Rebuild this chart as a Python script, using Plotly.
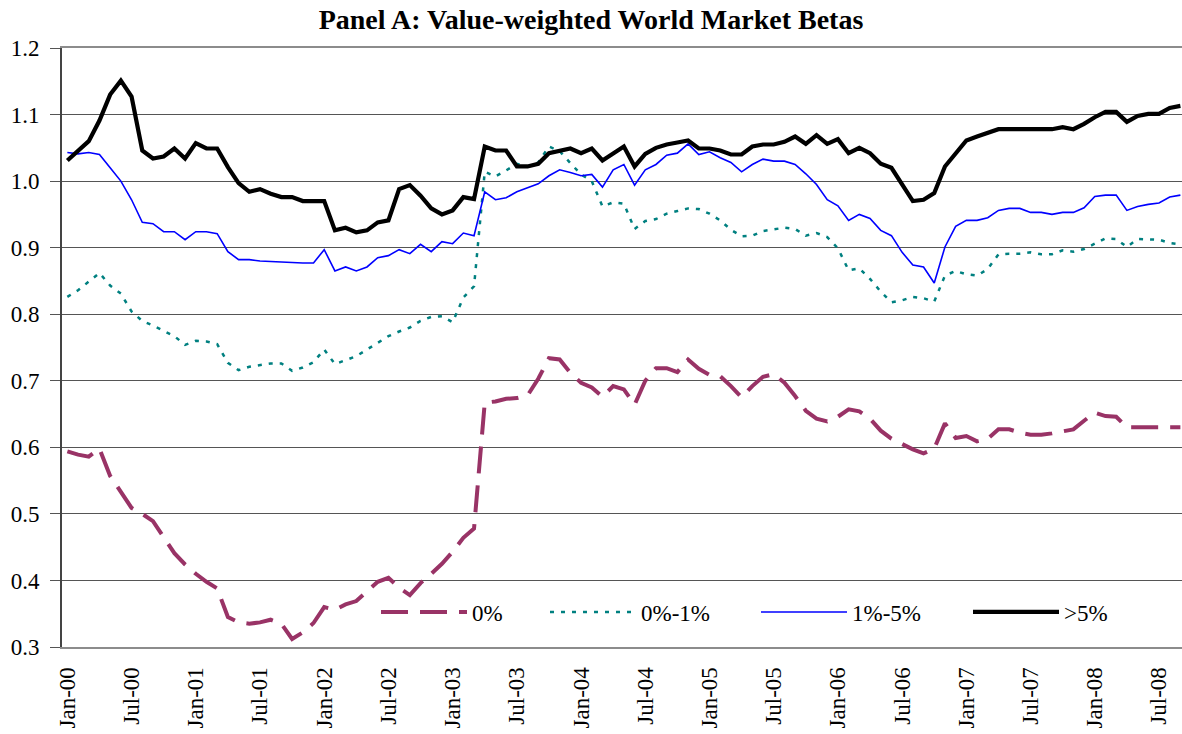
import plotly.graph_objects as go

MONTHS = ["Jan", "Feb", "Mar", "Apr", "May", "Jun", "Jul", "Aug", "Sep", "Oct", "Nov", "Dec"]
YEARS = ["00", "01", "02", "03", "04", "05", "06", "07", "08"]
N_MONTHS = 105  # Jan-00 .. Sep-08
categories = [f"{m}-{y}" for y in YEARS for m in MONTHS][:N_MONTHS]
tick_labels = categories[::6]

beta_0 = [
    0.594, 0.589, 0.586, 0.598, 0.557, 0.533, 0.509, 0.500, 0.489, 0.465, 0.441, 0.424,
    0.410, 0.398, 0.388, 0.345, 0.337, 0.335, 0.337, 0.341, 0.335, 0.312, 0.322, 0.336,
    0.360, 0.356, 0.364, 0.369, 0.383, 0.398, 0.404, 0.389, 0.378, 0.396, 0.410, 0.425,
    0.443, 0.464, 0.478, 0.667, 0.669, 0.673, 0.674, 0.678, 0.703, 0.734, 0.732, 0.712,
    0.697, 0.690, 0.676, 0.692, 0.687, 0.664, 0.700, 0.719, 0.719, 0.713, 0.732, 0.718,
    0.709, 0.707, 0.692, 0.675, 0.692, 0.706, 0.710, 0.697, 0.677, 0.655, 0.643, 0.639,
    0.646, 0.657, 0.654, 0.643, 0.625, 0.613, 0.605, 0.597, 0.591, 0.598, 0.636, 0.614,
    0.617, 0.609, 0.613, 0.627, 0.627, 0.622, 0.619, 0.619, 0.621, 0.624, 0.627, 0.640,
    0.652, 0.647, 0.646, 0.630, 0.630, 0.630, 0.630, 0.630, 0.630,
]

beta_0_1 = [
    0.826, 0.836, 0.849, 0.862, 0.843, 0.831, 0.804, 0.790, 0.783, 0.775, 0.767, 0.754,
    0.760, 0.759, 0.755, 0.727, 0.716, 0.721, 0.723, 0.726, 0.726, 0.715, 0.720, 0.728,
    0.747, 0.725, 0.731, 0.737, 0.747, 0.757, 0.767, 0.774, 0.780, 0.790, 0.796, 0.797,
    0.788, 0.825, 0.842, 1.014, 1.007, 1.016, 1.026, 1.022, 1.028, 1.052, 1.045, 1.027,
    1.010, 1.000, 0.962, 0.968, 0.966, 0.928, 0.940, 0.943, 0.951, 0.955, 0.959, 0.958,
    0.951, 0.941, 0.927, 0.917, 0.918, 0.925, 0.928, 0.930, 0.928, 0.918, 0.922, 0.916,
    0.899, 0.866, 0.869, 0.853, 0.834, 0.818, 0.821, 0.826, 0.824, 0.819, 0.858, 0.865,
    0.860, 0.858, 0.868, 0.890, 0.891, 0.891, 0.893, 0.890, 0.890, 0.896, 0.894, 0.898,
    0.906, 0.914, 0.913, 0.901, 0.913, 0.913, 0.912, 0.907, 0.905,
]

beta_1_5 = [
    1.043, 1.041, 1.043, 1.040, 1.020, 1.000, 0.972, 0.938, 0.936, 0.924, 0.924, 0.912,
    0.924, 0.924, 0.921, 0.894, 0.882, 0.882, 0.880, 0.879, 0.879, 0.877, 0.877, 0.877,
    0.897, 0.865, 0.871, 0.865, 0.871, 0.885, 0.888, 0.897, 0.891, 0.905, 0.894, 0.909,
    0.906, 0.922, 0.918, 0.984, 0.972, 0.975, 0.984, 0.990, 0.996, 1.008, 1.017, 1.013,
    1.008, 1.010, 0.991, 1.017, 1.025, 0.994, 1.017, 1.025, 1.039, 1.042, 1.056, 1.040,
    1.044, 1.035, 1.028, 1.014, 1.025, 1.033, 1.030, 1.030, 1.025, 1.011, 0.995, 0.972,
    0.963, 0.941, 0.950, 0.944, 0.926, 0.918, 0.893, 0.874, 0.871, 0.847, 0.901, 0.932,
    0.941, 0.941, 0.945, 0.956, 0.959, 0.959, 0.953, 0.953, 0.950, 0.953, 0.953, 0.960,
    0.977, 0.979, 0.979, 0.956, 0.962, 0.965, 0.967, 0.976, 0.979,
]

beta_gt5 = [
    1.031, 1.046, 1.060, 1.091, 1.130, 1.151, 1.127, 1.046, 1.034, 1.037, 1.049, 1.034,
    1.057, 1.049, 1.049, 1.021, 0.997, 0.984, 0.988, 0.981, 0.976, 0.976, 0.970, 0.970,
    0.970, 0.926, 0.930, 0.923, 0.926, 0.938, 0.941, 0.988, 0.994, 0.978, 0.959, 0.950,
    0.956, 0.976, 0.973, 1.052, 1.046, 1.046, 1.022, 1.022, 1.026, 1.042, 1.046, 1.049,
    1.042, 1.049, 1.031, 1.042, 1.052, 1.022, 1.041, 1.050, 1.055, 1.058, 1.061, 1.049,
    1.049, 1.046, 1.040, 1.040, 1.052, 1.055, 1.055, 1.059, 1.067, 1.056, 1.069, 1.056,
    1.063, 1.042, 1.050, 1.042, 1.026, 1.020, 0.994, 0.970, 0.972, 0.982, 1.022, 1.042,
    1.061, 1.067, 1.073, 1.078, 1.078, 1.078, 1.078, 1.078, 1.078, 1.081, 1.078, 1.086,
    1.096, 1.104, 1.104, 1.089, 1.098, 1.101, 1.101, 1.110, 1.113,
]

series_names = ["0%", "0%-1%", "1%-5%", ">5%"]
series_values = [beta_0, beta_0_1, beta_1_5, beta_gt5]
series_styles = [
    dict(color="#993366", width=4, dash="27px,12px"),
    dict(color="#008080", width=2.5, dash="4px,7px"),
    dict(color="#0000FF", width=1.6),
    dict(color="#000000", width=4.2),
]
legend_ids = ["legend", "legend2", "legend3", "legend4"]
legend_line_starts_px = [383, 552, 763, 975]

FONT = "Liberation Serif, Times New Roman, serif"
X_RANGE = [-0.5, 104.15]
PLOT_L, PLOT_W, PLOT_T, PLOT_H = 62, 1120, 48, 599

fig = go.Figure()
for name, vals, style, lid in zip(series_names, series_values, series_styles, legend_ids):
    fig.add_trace(go.Scatter(x=categories, y=vals, mode="lines", name=name,
                             line=style, legend=lid, hoverinfo="x+y+name"))

legend_cfg = {}
for lid, start in zip(legend_ids, legend_line_starts_px):
    legend_cfg[lid] = dict(
        orientation="h", x=(start - 7 - PLOT_L) / PLOT_W, xanchor="left",
        y=(PLOT_T + PLOT_H - 612) / PLOT_H, yanchor="middle",
        font=dict(family=FONT, size=23, color="#000000"),
        bgcolor="rgba(0,0,0,0)", itemwidth=86,
    )

fig.update_layout(
    width=1182, height=734,
    margin=dict(l=PLOT_L, r=0, t=PLOT_T, b=734 - PLOT_T - PLOT_H),
    paper_bgcolor="white", plot_bgcolor="white",
    font=dict(family=FONT, color="#000000"),
    title=dict(text="<b>Panel A: Value-weighted World Market Betas</b>",
               x=0.5, xanchor="center", y=1 - 19 / 734, yanchor="middle",
               font=dict(family=FONT, size=28, color="#000000")),
    showlegend=True,
    xaxis=dict(type="category", range=X_RANGE, tickmode="array",
               tickvals=tick_labels, ticktext=tick_labels, tickangle=-90,
               ticks="", ticklabelstandoff=9,
               tickfont=dict(family=FONT, size=23, color="#000000"),
               showgrid=False, showline=True, linecolor="#8c8c8c", linewidth=2,
               mirror=True, zeroline=False, fixedrange=True),
    xaxis2=dict(type="linear", overlaying="x", anchor="y", side="bottom",
                range=X_RANGE, tickmode="array",
                tickvals=[k - 0.5 for k in range(0, N_MONTHS, 6)],
                ticks="outside", ticklen=8, tickwidth=1.5, tickcolor="#555555",
                showticklabels=False, showgrid=False, showline=False, zeroline=False),
    yaxis=dict(range=[0.3, 1.2], tickmode="linear", tick0=0.3, dtick=0.1,
               tickformat=".1f", ticks="outside", ticklen=10, tickcolor="#555555",
               ticklabelstandoff=6,
               tickfont=dict(family=FONT, size=23, color="#000000"),
               showgrid=True, gridcolor="#555555", gridwidth=1,
               showline=True, linecolor="#444444", linewidth=2, zeroline=False),
    **legend_cfg,
)

fig.write_html("out.html",
               config={"displayModeBar": False},
               post_script="document.body.style.margin='0px';document.body.style.overflow='hidden';")
